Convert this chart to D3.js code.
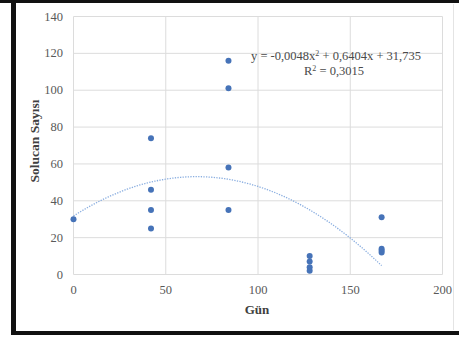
<!DOCTYPE html>
<html>
<head>
<meta charset="utf-8">
<script src="https://cdn.jsdelivr.net/npm/d3@7"></script>
<style>
  body { margin: 0; background: #fff; }
  svg { display: block; }
</style>
</head>
<body>
<div id="chart"></div>
<script>
// point data
var days   = [0, 42, 42, 42, 42, 84, 84, 84, 84, 128, 128, 128, 128, 167, 167, 167, 167];
var worms  = [30, 74, 46, 35, 25, 116, 101, 58, 35, 10, 7, 4, 2, 31, 14, 13, 12];
var xTicks = [0, 50, 100, 150, 200];
var yTicks = [0, 20, 40, 60, 80, 100, 120, 140];
// trendline coefficients as printed on the chart (a, b, c)
var trendCoef = [-0.0048, 0.6404, 31.735];
var trendRange = [0, 167];

var W = 459, H = 340;
var svg = d3.select("#chart").append("svg").attr("width", W).attr("height", H);

// frame of the scanned figure
svg.append("rect").attr("x", 0).attr("y", 0).attr("width", W).attr("height", 3).attr("fill", "#111");
svg.append("rect").attr("x", 11).attr("y", 0).attr("width", 5).attr("height", 335).attr("fill", "#111");
svg.append("rect").attr("x", 11).attr("y", 331).attr("width", W - 11).attr("height", 4).attr("fill", "#111");
svg.append("line").attr("x1", 453.5).attr("x2", 453.5).attr("y1", 4).attr("y2", 330)
  .attr("stroke", "#e4e4e4");

var x = d3.scaleLinear().domain([0, 200]).range([73.5, 442.5]);
var y = d3.scaleLinear().domain([0, 140]).range([274.5, 16.5]);

// grid
svg.append("g").selectAll("line").data(yTicks).join("line")
  .attr("x1", x(0)).attr("x2", x(200))
  .attr("y1", d => y(d)).attr("y2", d => y(d))
  .attr("stroke", "#dcdcdc").attr("stroke-width", 1);
svg.append("g").selectAll("line").data(xTicks).join("line")
  .attr("x1", d => x(d)).attr("x2", d => x(d))
  .attr("y1", y(0)).attr("y2", y(140))
  .attr("stroke", "#dcdcdc").attr("stroke-width", 1);

// tick labels
svg.append("g").selectAll("text").data(yTicks).join("text")
  .attr("x", 63).attr("y", d => y(d) + 4)
  .attr("text-anchor", "end")
  .attr("font-family", "Liberation Serif, serif").attr("font-size", 12.5)
  .attr("fill", "#595959")
  .text(d => d);
svg.append("g").selectAll("text").data(xTicks).join("text")
  .attr("x", d => x(d)).attr("y", 294)
  .attr("text-anchor", "middle")
  .attr("font-family", "Liberation Serif, serif").attr("font-size", 12.5)
  .attr("fill", "#595959")
  .text(d => d);

// axis titles
svg.append("text").attr("x", 257).attr("y", 314)
  .attr("text-anchor", "middle")
  .attr("font-family", "Liberation Serif, serif").attr("font-size", 13).attr("font-weight", "bold")
  .attr("fill", "#404040").text("Gün");
svg.append("text").attr("transform", "translate(39,141) rotate(-90)")
  .attr("text-anchor", "middle")
  .attr("font-family", "Liberation Serif, serif").attr("font-size", 13.5).attr("font-weight", "bold")
  .attr("fill", "#404040").text("Solucan Sayısı");

// trendline (polynomial, order 2) drawn from the printed equation
var trendX = d3.range(trendRange[0], trendRange[1] + 0.5, 1);
var line = d3.line()
  .x(d => x(d))
  .y(d => y(trendCoef[0] * d * d + trendCoef[1] * d + trendCoef[2]));
svg.append("path").datum(trendX)
  .attr("d", line)
  .attr("fill", "none")
  .attr("stroke", "#8aaee0")
  .attr("stroke-width", 1.3)
  .attr("stroke-dasharray", "1.3,1.3");

// points
svg.append("g").selectAll("circle").data(days).join("circle")
  .attr("cx", d => x(d))
  .attr("cy", (d, i) => y(worms[i]))
  .attr("r", 3)
  .attr("fill", "#4673b8");

// equation label
var eq = svg.append("text")
  .attr("font-family", "Liberation Serif, serif").attr("font-size", 12.5)
  .attr("fill", "#4a4a4a").attr("text-anchor", "middle");
eq.append("tspan").attr("x", 336).attr("y", 60).text("y = -0,0048x");
eq.append("tspan").attr("font-size", 8).attr("dy", -4).text("2");
eq.append("tspan").attr("dy", 4).text(" + 0,6404x + 31,735");
var r2 = svg.append("text")
  .attr("font-family", "Liberation Serif, serif").attr("font-size", 12.5)
  .attr("fill", "#4a4a4a").attr("text-anchor", "middle");
r2.append("tspan").attr("x", 334).attr("y", 75).text("R");
r2.append("tspan").attr("font-size", 8).attr("dy", -4).text("2");
r2.append("tspan").attr("dy", 4).text(" = 0,3015");
</script>
</body>
</html>
